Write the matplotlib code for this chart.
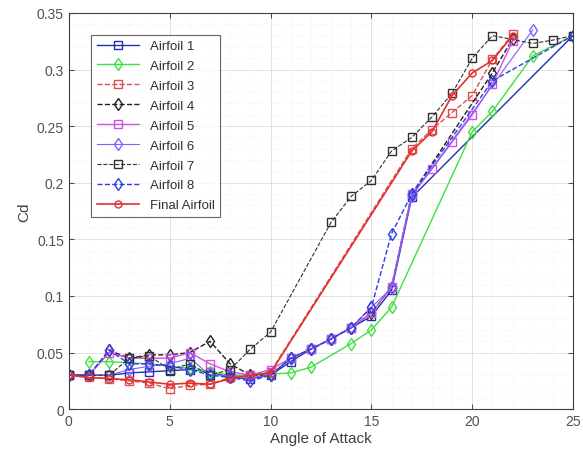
import matplotlib
matplotlib.use('Agg')
import matplotlib.pyplot as plt
from matplotlib.ticker import MultipleLocator

plt.rcParams['font.family'] = ['Liberation Sans', 'DejaVu Sans']

# Data (angle of attack vs Cd)
a1_x = [0, 1, 2, 3, 4, 5, 6, 7, 8, 9, 10, 11, 12, 13, 14, 15, 16, 17, 25]
a1_y = [0.030, 0.030, 0.030, 0.032, 0.033, 0.034, 0.035, 0.033, 0.028, 0.027, 0.030,
        0.042, 0.053, 0.062, 0.072, 0.082, 0.105, 0.187, 0.330]

a2_x = [1, 2, 3, 4, 5, 6, 7, 8, 9, 10, 11, 12, 14, 15, 16, 20, 21, 23, 25]
a2_y = [0.042, 0.042, 0.041, 0.040, 0.038, 0.036, 0.033, 0.030, 0.030, 0.031, 0.032,
        0.037, 0.058, 0.070, 0.090, 0.245, 0.263, 0.312, 0.330]

a3_x = [0, 1, 2, 3, 4, 5, 6, 7, 8, 9, 10, 17, 18, 19, 20, 21, 22]
a3_y = [0.030, 0.028, 0.027, 0.025, 0.023, 0.018, 0.021, 0.022, 0.028, 0.030, 0.033,
        0.230, 0.247, 0.262, 0.277, 0.309, 0.331]

a4_x = [0, 1, 2, 3, 4, 5, 6, 7, 8, 9, 10, 11, 12, 13, 14, 15, 16, 17, 21, 22]
a4_y = [0.030, 0.030, 0.052, 0.045, 0.048, 0.048, 0.050, 0.060, 0.040, 0.030, 0.030,
        0.045, 0.053, 0.062, 0.072, 0.085, 0.108, 0.190, 0.297, 0.327]

a5_x = [0, 1, 2, 3, 4, 5, 6, 7, 8, 9, 10, 11, 12, 13, 14, 15, 16, 17, 18, 19, 20, 21, 22]
a5_y = [0.030, 0.030, 0.050, 0.045, 0.045, 0.045, 0.050, 0.040, 0.033, 0.030, 0.035,
        0.045, 0.053, 0.062, 0.072, 0.085, 0.108, 0.190, 0.212, 0.236, 0.260, 0.287, 0.325]

a6_x = [0, 1, 2, 3, 4, 5, 6, 7, 8, 9, 10, 11, 12, 13, 14, 15, 16, 17, 23]
a6_y = [0.030, 0.030, 0.030, 0.035, 0.038, 0.040, 0.045, 0.030, 0.030, 0.028, 0.030,
        0.045, 0.053, 0.062, 0.072, 0.090, 0.107, 0.188, 0.335]

a7_x = [0, 1, 2, 3, 4, 5, 6, 7, 8, 9, 10, 13, 14, 15, 16, 17, 18, 19, 20, 21, 23, 24, 25]
a7_y = [0.030, 0.030, 0.030, 0.045, 0.047, 0.035, 0.040, 0.030, 0.035, 0.053, 0.068,
        0.165, 0.188, 0.202, 0.228, 0.240, 0.258, 0.279, 0.310, 0.330, 0.323, 0.326, 0.330]

a8_x = [0, 1, 2, 3, 4, 5, 6, 7, 8, 9, 10, 11, 12, 13, 14, 15, 16, 17, 21, 25]
a8_y = [0.030, 0.030, 0.052, 0.040, 0.040, 0.038, 0.035, 0.030, 0.028, 0.025, 0.030,
        0.045, 0.053, 0.062, 0.072, 0.090, 0.155, 0.190, 0.290, 0.330]

fin_x = [0, 1, 2, 3, 4, 5, 6, 7, 8, 9, 10, 17, 18, 19, 20, 21, 22]
fin_y = [0.030, 0.028, 0.027, 0.026, 0.024, 0.022, 0.023, 0.022, 0.027, 0.030, 0.032,
         0.228, 0.245, 0.277, 0.297, 0.308, 0.330]

fig = plt.figure(figsize=(5.83, 4.64), dpi=100)
ax = fig.add_axes([0.118, 0.116, 0.865, 0.854])

ms = 6
ax.plot(a1_x, a1_y, '-s', color='#2030b0', mfc='none', ms=ms, lw=1, label='Airfoil 1')
ax.plot(a2_x, a2_y, '-d', color='#40e040', mfc='none', ms=ms, lw=1, label='Airfoil 2')
ax.plot(a3_x, a3_y, '--s', color='#e05050', mfc='none', ms=ms, lw=1, label='Airfoil 3')
ax.plot(a4_x, a4_y, '--d', color='#202020', mfc='none', ms=ms, lw=1, label='Airfoil 4')
ax.plot(a5_x, a5_y, '-s', color='#d050e0', mfc='none', ms=ms, lw=1, label='Airfoil 5')
ax.plot(a6_x, a6_y, '-d', color='#8060ff', mfc='none', ms=ms, lw=0.8, label='Airfoil 6')
ax.plot(a7_x, a7_y, '--s', color='#303030', mfc='none', ms=ms, lw=0.8, label='Airfoil 7')
ax.plot(a8_x, a8_y, '--d', color='#3040e0', mfc='none', ms=ms, lw=1, label='Airfoil 8')
ax.plot(fin_x, fin_y, '-o', color='#e03030', mfc='none', ms=5, lw=1.2, label='Final Airfoil')

ax.set_xlim(0, 25)
ax.set_ylim(0, 0.35)
ax.set_xticks([0, 5, 10, 15, 20, 25])
ax.set_yticks([0, 0.05, 0.1, 0.15, 0.2, 0.25, 0.3, 0.35])
ax.set_yticklabels(['0', '0.05', '0.1', '0.15', '0.2', '0.25', '0.3', '0.35'])
ax.xaxis.set_minor_locator(MultipleLocator(1))
ax.yaxis.set_minor_locator(MultipleLocator(0.01))
ax.grid(which='major', color='#dcdcdc', lw=0.6)
ax.grid(which='minor', color='#ececec', lw=0.5, ls=':')
ax.set_axisbelow(True)
ax.tick_params(which='both', direction='in', top=True, right=True, labelsize=10, colors='#505050')
ax.tick_params(which='minor', length=0)
for s in ax.spines.values():
    s.set_color('#404040')
    s.set_linewidth(0.8)

ax.set_xlabel('Angle of Attack', fontsize=11, color='#404040', labelpad=2)
ax.set_ylabel('Cd', fontsize=11, color='#404040', labelpad=4)

leg = ax.legend(loc='upper left', bbox_to_anchor=(0.045, 0.945), fontsize=9.5,
                frameon=True, fancybox=False, edgecolor='#404040', handlelength=3.2,
                borderaxespad=0, labelspacing=0.58)
leg.get_frame().set_linewidth(0.8)
for t in leg.get_texts():
    t.set_color('#303030')

fig.savefig('out.png', dpi=100)
